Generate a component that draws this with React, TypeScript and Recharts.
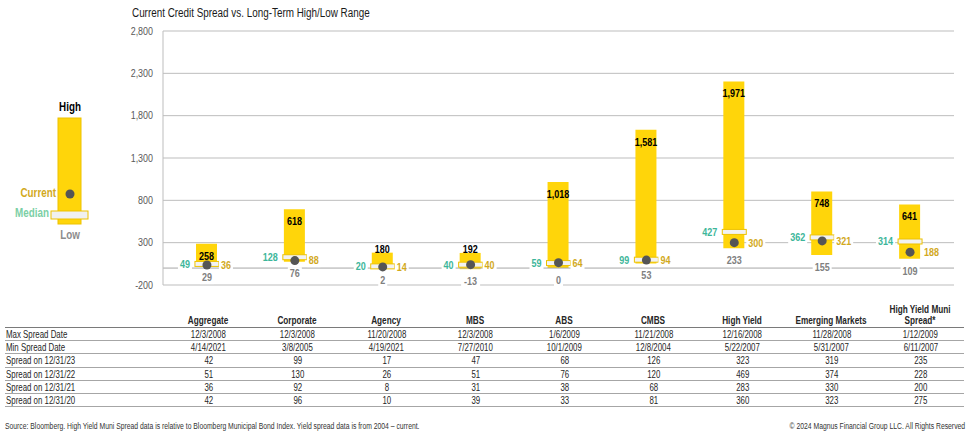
import React from "react";
import {
  ComposedChart,
  Bar,
  Line,
  XAxis,
  YAxis,
  CartesianGrid,
  ReferenceLine,
  LabelList,
} from "recharts";

// no Arial Narrow here, so squeeze Liberation Sans the same way
const FONT = "'Liberation Sans', Arial, sans-serif";
const SQUEEZE = 0.82;

const categories = [
  "Aggregate",
  "Corporate",
  "Agency",
  "MBS",
  "ABS",
  "CMBS",
  "High Yield",
  "Emerging Markets",
  "High Yield Muni Spread*",
];

const highSpread = [258, 618, 180, 192, 1018, 1581, 1971, 748, 641];
const lowSpread = [29, 76, 2, -13, 0, 53, 233, 155, 109];
const medianSpread = [49, 128, 20, 40, 59, 99, 427, 362, 314];
const currentSpread = [36, 88, 14, 40, 64, 94, 300, 321, 188];

const maxSpreadDate = [
  "12/3/2008",
  "12/3/2008",
  "11/20/2008",
  "12/3/2008",
  "1/6/2009",
  "11/21/2008",
  "12/16/2008",
  "11/28/2008",
  "1/12/2009",
];
const minSpreadDate = [
  "4/14/2021",
  "3/8/2005",
  "4/19/2021",
  "7/27/2010",
  "10/1/2009",
  "12/8/2004",
  "5/22/2007",
  "5/31/2007",
  "6/11/2007",
];
const spread2023 = [42, 99, 17, 47, 68, 126, 323, 319, 235];
const spread2022 = [51, 130, 26, 51, 76, 120, 469, 374, 228];
const spread2021 = [36, 92, 8, 31, 38, 68, 283, 330, 200];
const spread2020 = [42, 96, 10, 39, 33, 81, 360, 323, 275];

const yTicks = [-200, 300, 800, 1300, 1800, 2300, 2800];

const YELLOW = "#FFD50A";
const YELLOW_EDGE = "#EDC200";
const TEAL = "#3DB69A";
const GOLD = "#D2A91C";
const GREY = "#808080";
const DOT = "#555555";

// the original chart stacks the high value on top of the low one
const data = categories.map((name, i) => ({
  name,
  high: highSpread[i],
  low: lowSpread[i],
  median: medianSpread[i],
  current: currentSpread[i],
  range: [lowSpread[i], lowSpread[i] + highSpread[i]],
}));

const tableRows = [
  { label: "Max Spread Date", values: maxSpreadDate },
  { label: "Min Spread Date", values: minSpreadDate },
  { label: "Spread on 12/31/23", values: spread2023 },
  { label: "Spread on 12/31/22", values: spread2022 },
  { label: "Spread on 12/31/21", values: spread2021 },
  { label: "Spread on 12/31/20", values: spread2020 },
];

const fmt = (v: number) => v.toLocaleString("en-US");

function NText(props: any) {
  const { x, y, anchor = "middle", squeeze = SQUEEZE, children, ...rest } = props;
  return (
    <text
      transform={`translate(${x},${y}) scale(${squeeze},1)`}
      textAnchor={anchor}
      dy="0.35em"
      fontFamily={FONT}
      {...rest}
    >
      {children}
    </text>
  );
}

function Narrow({ children, origin = "center", squeeze = SQUEEZE, style }: any) {
  return (
    <span
      style={{
        display: "inline-block",
        transform: `scaleX(${squeeze})`,
        transformOrigin: origin,
        whiteSpace: "nowrap",
        ...style,
      }}
    >
      {children}
    </span>
  );
}

function boxedText(
  x: number,
  y: number,
  text: string,
  anchor: "start" | "middle" | "end",
  color: string
) {
  const w = text.length * 5 + 4;
  const rx = anchor === "end" ? x - w + 2 : anchor === "start" ? x - 2 : x - w / 2;
  return (
    <g>
      <rect x={rx} y={y - 6.5} width={w} height={13} fill="#ffffff" />
      <NText x={x} y={y} anchor={anchor} fill={color} fontSize={11} fontWeight="bold">
        {text}
      </NText>
    </g>
  );
}

const HighLabel = (p: any) => {
  const { x, y, width, height, value } = p;
  const ty = height >= 20 ? y + 12 : y - 4;
  return (
    <NText x={x + width / 2} y={ty} fill="#000" fontSize={11} fontWeight="bold">
      {fmt(value)}
    </NText>
  );
};

const MedianLabel = (p: any) => boxedText(p.x - 17, p.y, fmt(p.value), "end", TEAL);
const CurrentLabel = (p: any) => boxedText(p.x + 14, p.y, fmt(p.value), "start", GOLD);
const LowLabel = (p: any) => boxedText(p.x, p.y + 12, fmt(p.value), "middle", GREY);

const MedianMark = (p: any) => {
  if (p.cx == null || p.cy == null) return <g key={p.index} />;
  return (
    <rect
      key={p.index}
      x={p.cx - 12}
      y={p.cy - 2.5}
      width={24}
      height={5}
      fill="#F2F2F2"
      stroke={YELLOW_EDGE}
      strokeWidth={1}
    />
  );
};

const CurrentDot = (p: any) => {
  if (p.cx == null || p.cy == null) return <g key={p.index} />;
  return <circle key={p.index} cx={p.cx} cy={p.cy} r={4.5} fill={DOT} />;
};

const YTick = (p: any) => (
  <NText x={p.x} y={p.y} anchor="end" fill="#595959" fontSize={10.5} squeeze={0.85}>
    {fmt(p.payload.value)}
  </NText>
);

function LegendKey() {
  const t = { fontSize: 12, fontWeight: "bold" };
  return (
    <svg width={120} height={260} style={{ position: "absolute", left: 0, top: 0 }}>
      <NText x={70} y={107} fill="#000" {...t}>
        High
      </NText>
      <rect x={58} y={118} width={23} height={106} fill={YELLOW} stroke={YELLOW_EDGE} />
      <circle cx={70} cy={194} r={4.5} fill={DOT} />
      <NText x={56} y={193} anchor="end" fill={GOLD} {...t}>
        Current
      </NText>
      <rect x={51} y={211} width={37} height={8} fill="#F0F0F0" stroke={YELLOW_EDGE} />
      <NText x={49} y={213} anchor="end" fill="#7CCFA5" {...t}>
        Median
      </NText>
      <NText x={70} y={235} fill="#8C8C8C" {...t}>
        Low
      </NText>
    </svg>
  );
}

function SpreadTable() {
  const labelW = 158;
  const colW = 89;
  const rowSqueeze = 0.75;
  const cell: React.CSSProperties = {
    width: colW,
    flex: "none",
    display: "flex",
    justifyContent: "center",
  };
  return (
    <div
      style={{
        position: "absolute",
        left: 5,
        top: 302,
        width: labelW + colW * 9,
        fontFamily: FONT,
        fontSize: 10.5,
        color: "#262626",
      }}
    >
      <div
        style={{
          display: "flex",
          alignItems: "flex-end",
          height: 26,
          borderBottom: "1px solid #7a7a7a",
          fontWeight: "bold",
          fontSize: 10,
          lineHeight: "11px",
          paddingBottom: 1,
          boxSizing: "border-box",
        }}
      >
        <div style={{ width: labelW, flex: "none" }} />
        {categories.map((c) => (
          <div key={c} style={cell}>
            <Narrow
              style={{ whiteSpace: "normal", width: 104, flex: "none", textAlign: "center" }}
            >
              {c}
            </Narrow>
          </div>
        ))}
      </div>
      {tableRows.map((r) => (
        <div
          key={r.label}
          style={{
            display: "flex",
            alignItems: "center",
            height: 13.2,
            borderBottom: "1px solid #a6a6a6",
            boxSizing: "border-box",
            lineHeight: "12px",
          }}
        >
          <div style={{ width: labelW, flex: "none", paddingLeft: 1 }}>
            <Narrow origin="left" squeeze={rowSqueeze}>
              {r.label}
            </Narrow>
          </div>
          {r.values.map((v, i) => (
            <div key={i} style={cell}>
              <Narrow squeeze={rowSqueeze}>{v}</Narrow>
            </div>
          ))}
        </div>
      ))}
    </div>
  );
}

export default function App() {
  return (
    <div
      style={{
        position: "absolute",
        left: 0,
        top: 0,
        width: 969,
        height: 432,
        background: "#fff",
        fontFamily: FONT,
      }}
    >
      <div
        style={{
          position: "absolute",
          left: 132,
          top: 5,
          fontSize: 12.5,
          color: "#1a1a1a",
          lineHeight: "16px",
        }}
      >
        <Narrow origin="left" squeeze={0.79}>
          Current Credit Spread vs. Long-Term High/Low Range
        </Narrow>
      </div>
      <LegendKey />
      <div style={{ position: "absolute", left: 0, top: 0 }}>
        <ComposedChart
          width={969}
          height={300}
          data={data}
          margin={{ top: 31, right: 15, bottom: 15, left: 0 }}
        >
          <CartesianGrid vertical={false} stroke="#BDBDBD" />
          <XAxis dataKey="name" hide />
          <YAxis
            width={163}
            domain={[-200, 2800]}
            ticks={yTicks}
            axisLine={{ stroke: "#BDBDBD" }}
            tickLine={false}
            tickMargin={4}
            tick={YTick}
          />
          <YAxis
            yAxisId="edge"
            orientation="right"
            width={0}
            domain={[-200, 2800]}
            ticks={yTicks}
            tick={false}
            tickLine={false}
            axisLine={{ stroke: "#BDBDBD" }}
          />
          <ReferenceLine y={0} stroke="#A6A6A6" />
          <Bar dataKey="range" barSize={21} fill={YELLOW} isAnimationActive={false}>
            <LabelList dataKey="high" content={HighLabel} />
          </Bar>
          <Line
            dataKey="low"
            stroke="none"
            dot={false}
            activeDot={false}
            isAnimationActive={false}
          >
            <LabelList dataKey="low" content={LowLabel} />
          </Line>
          <Line
            dataKey="median"
            stroke="none"
            dot={MedianMark}
            activeDot={false}
            isAnimationActive={false}
          >
            <LabelList dataKey="median" content={MedianLabel} />
          </Line>
          <Line
            dataKey="current"
            stroke="none"
            dot={CurrentDot}
            activeDot={false}
            isAnimationActive={false}
          >
            <LabelList dataKey="current" content={CurrentLabel} />
          </Line>
        </ComposedChart>
      </div>
      <SpreadTable />
      <div
        style={{
          position: "absolute",
          left: 5,
          top: 420,
          fontSize: 8.3,
          color: "#333",
          lineHeight: "12px",
        }}
      >
        <Narrow origin="left">
          Source: Bloomberg. High Yield Muni Spread data is relative to Bloomberg Municipal Bond
          Index. Yield spread data is from 2004 – current.
        </Narrow>
      </div>
      <div
        style={{
          position: "absolute",
          right: 4,
          top: 420,
          fontSize: 8.3,
          color: "#333",
          lineHeight: "12px",
        }}
      >
        <Narrow origin="right">© 2024 Magnus Financial Group LLC. All Rights Reserved</Narrow>
      </div>
    </div>
  );
}
